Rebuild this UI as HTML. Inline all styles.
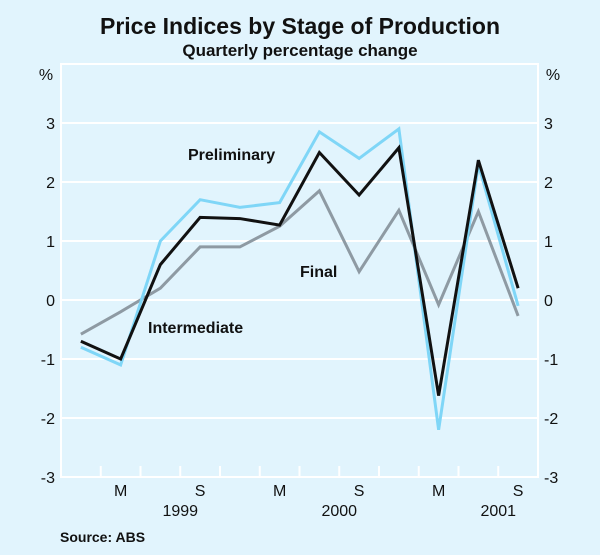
<!DOCTYPE html>
<html><head><meta charset="utf-8"><style>
body{margin:0;background:#e1f4fd;}
svg{display:block;font-family:"Liberation Sans",Arial,sans-serif;}
</style></head><body>
<svg id="c" width="600" height="555">
<rect width="600" height="555" fill="#e1f4fd"/>
<text x="300" y="34" text-anchor="middle" font-size="23" font-weight="bold" fill="#111">Price Indices by Stage of Production</text>
<text x="300" y="56" text-anchor="middle" font-size="17" font-weight="bold" fill="#111">Quarterly percentage change</text>
<text x="46" y="80" text-anchor="middle" font-size="16" fill="#111">%</text>
<text x="553" y="80" text-anchor="middle" font-size="16" fill="#111">%</text>
<g id="grid"></g><g id="lines"></g><g id="labels"></g>
<text x="188" y="160" font-size="16" font-weight="bold" fill="#111">Preliminary</text>
<text x="300" y="277" font-size="16" font-weight="bold" fill="#111">Final</text>
<text x="148" y="333" font-size="16" font-weight="bold" fill="#111">Intermediate</text>
<text x="60" y="542" font-size="14" font-weight="bold" fill="#111">Source: ABS</text>
</svg>
<script>
const yTicks=[3,2,1,0,-1,-2,-3];
const quarterLabels=["","M","","S","","M","","S","","M","","S"];
const yearLabels=["1999","2000","2001"];
const yearCenterIdx=[2.5,6.5,10.5];
const preliminary=[-0.8,-1.1,1.0,1.7,1.57,1.65,2.85,2.4,2.9,-2.2,2.3,-0.1];
const finalSeries=[-0.7,-1.0,0.6,1.4,1.38,1.27,2.5,1.78,2.58,-1.62,2.37,0.2];
const intermediate=[-0.58,-0.2,0.2,0.9,0.9,1.25,1.85,0.48,1.52,-0.08,1.5,-0.27];
const L=61,R=538,T=64,B=477,N=12;
const qw=(R-L)/N;
const y=v=>T+(4-v)*(B-T)/7;
const x=i=>L+qw*(i+0.5);
const NS="http://www.w3.org/2000/svg";
function mk(tag,attrs,parent){const e=document.createElementNS(NS,tag);for(const k in attrs)e.setAttribute(k,attrs[k]);parent.appendChild(e);return e;}
const g=document.getElementById('grid'),ln=document.getElementById('lines'),lb=document.getElementById('labels');
let fr=mk('rect',{x:L,y:T,width:R-L,height:B-T,fill:'none',stroke:'#fff','stroke-width':2},g);


yTicks.forEach(v=>{
 let l=mk('line',{x1:L,x2:R,y1:y(v),y2:y(v),stroke:'#fff','stroke-width':2},g);
 
 
 let t1=mk('text',{x:L-6,y:y(v)+6,'text-anchor':'end','font-size':16,fill:'#111'},lb);t1.textContent=v;
 
 
 let t2=mk('text',{x:R+6,y:y(v)+6,'font-size':16,fill:'#111'},lb);t2.textContent=v;
 
 
});
for(let i=1;i<N;i++){
 let t=mk('line',{x1:L+qw*i,x2:L+qw*i,y1:B,y2:B-11,stroke:'#fff','stroke-width':2},g);
 
 
}
quarterLabels.forEach((s,i)=>{if(!s)return;
 let t=mk('text',{x:x(i),y:B+19,'text-anchor':'middle','font-size':16,fill:'#111'},lb);t.textContent=s;
 
 
});
yearLabels.forEach((s,j)=>{
 let t=mk('text',{x:x(yearCenterIdx[j]),y:B+39,'text-anchor':'middle','font-size':16,fill:'#111'},lb);t.textContent=s;
 
 
});
function line(d,col,name){
 let p=mk('polyline',{points:d.map((v,i)=>x(i)+','+y(v)).join(' '),fill:'none',stroke:col,'stroke-width':3,'stroke-linejoin':'miter'},ln);
 
 
}
line(intermediate,'#8e9aa3','series-grey');
line(preliminary,'#7fd6f7','series-preliminary');
line(finalSeries,'#111','series-black');
</script>
</body></html>
